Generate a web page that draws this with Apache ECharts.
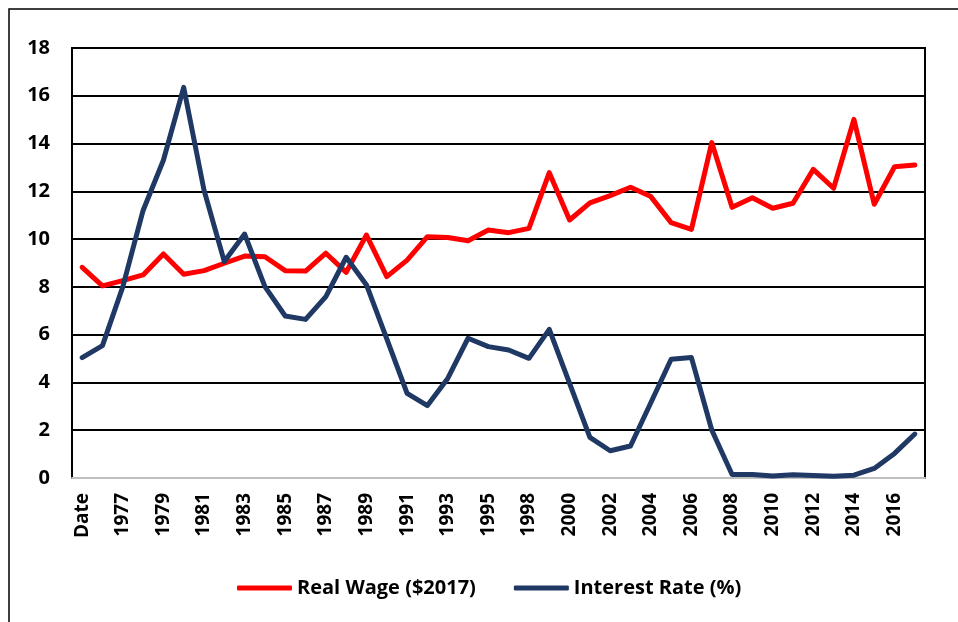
<!DOCTYPE html>
<html>
<head>
<meta charset="utf-8">
<script src="https://cdn.jsdelivr.net/npm/echarts@6/dist/echarts.min.js"></script>
<style>
html,body{margin:0;padding:0;background:#fff;}
#main{width:958px;height:622px;}
</style>
</head>
<body>
<div id="main"></div>
<script>
var categories = ['Date','1976','1977','1978','1979','1980','1981','1982','1983','1984','1985','1986','1987','1988','1989','1990','1991','1992','1993','1994','1995','1996','1998','1999','2000','2001','2002','2003','2004','2005','2006','2007','2008','2009','2010','2011','2012','2013','2014','2015','2016','2017'];
var realWage = [8.82,8.04,8.26,8.5,9.38,8.53,8.68,8.99,9.29,9.26,8.68,8.66,9.41,8.61,10.17,8.43,9.12,10.1,10.07,9.93,10.38,10.27,10.45,12.78,10.8,11.52,11.82,12.17,11.78,10.69,10.41,14.04,11.33,11.73,11.29,11.5,12.92,12.13,15.01,11.46,13.03,13.1];
var interestRate = [5.04,5.54,8.0,11.2,13.3,16.35,12.05,9.06,10.21,8.01,6.78,6.64,7.59,9.24,8.08,5.82,3.54,3.03,4.17,5.85,5.5,5.36,5.01,6.22,3.96,1.7,1.14,1.34,3.15,4.97,5.04,2.01,0.15,0.15,0.08,0.14,0.1,0.07,0.12,0.4,1.03,1.84];
var yTicks = {min:0, max:18, interval:2};

var FONT = 'Open Sans';
var chart = echarts.init(document.getElementById('main'), null, {renderer:'canvas'});
chart.setOption({
  animation:false,
  backgroundColor:'#fff',
  graphic:[{type:'rect', shape:{x:9,y:9,width:1200,height:1200}, style:{fill:null, stroke:'#000', lineWidth:1.5}, z:-1}],
  grid:{left:72, top:48, right:33, bottom:144, show:true, borderColor:'#000', borderWidth:2, backgroundColor:'transparent'},
  legend:{
    bottom:19, left:232,
    itemWidth:55, itemHeight:5, itemGap:38,
    icon:'roundRect',
    textStyle:{fontFamily:FONT, fontWeight:'bold', fontSize:20, color:'#000'},
    data:['Real Wage ($2017)','Interest Rate (%)']
  },
  xAxis:{
    type:'category', data:categories, boundaryGap:true,
    axisLine:{show:true, lineStyle:{color:'#bfbfbf', width:2}},
    axisTick:{show:false},
    axisLabel:{interval:1, rotate:90, margin:15, fontFamily:FONT, fontWeight:'bold', fontSize:19, color:'#000'},
    splitLine:{show:false}
  },
  yAxis:{
    type:'value', min:yTicks.min, max:yTicks.max, interval:yTicks.interval,
    axisLine:{show:true, lineStyle:{color:'#000', width:2}},
    axisTick:{show:false},
    axisLabel:{margin:22, fontFamily:FONT, fontWeight:'bold', fontSize:20, color:'#000'},
    splitLine:{show:true, lineStyle:{color:'#000', width:2}}
  },
  series:[
    {name:'Real Wage ($2017)', type:'line', data:realWage, symbol:'none', color:'#ff0000', lineStyle:{width:5, color:'#ff0000', cap:'round', join:'round'}},
    {name:'Interest Rate (%)', type:'line', data:interestRate, symbol:'none', color:'#203864', lineStyle:{width:5, color:'#203864', cap:'round', join:'round'}}
  ]
});
</script>
</body>
</html>
